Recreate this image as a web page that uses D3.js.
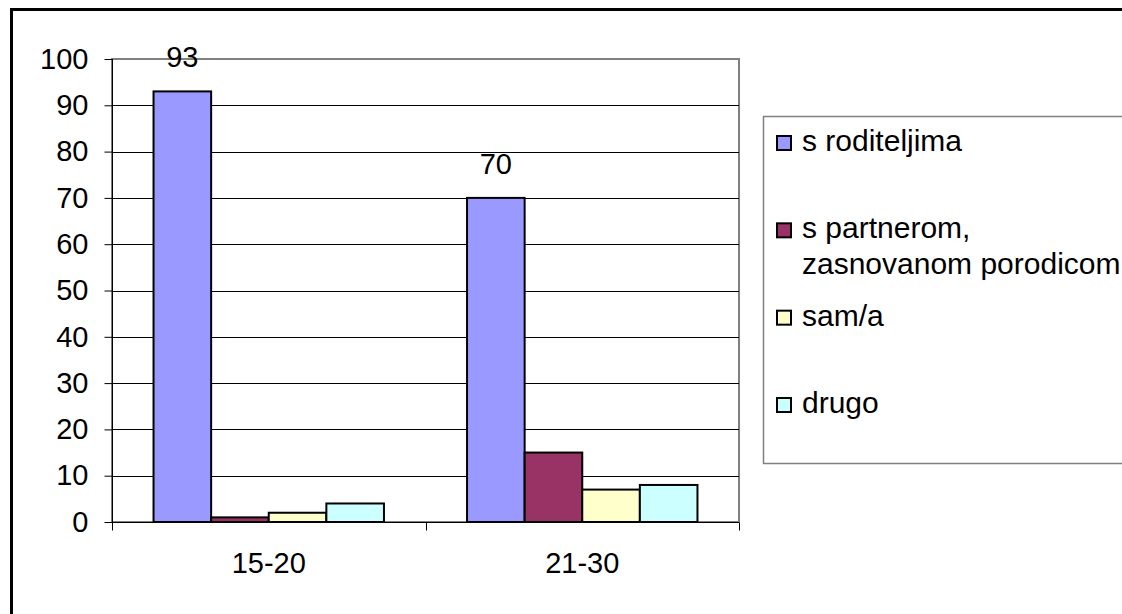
<!DOCTYPE html>
<html>
<head>
<meta charset="utf-8">
<script src="https://cdn.jsdelivr.net/npm/d3@7/dist/d3.min.js"></script>
<style>
  html, body { margin: 0; padding: 0; background: #fff; }
  svg { display: block; }
  text { font-family: "Liberation Sans", Arial, sans-serif; fill: #000; }
</style>
</head>
<body>
<svg id="chart" width="1122" height="614"></svg>
<script>
const categories = ["15-20", "21-30"];
const seriesNames = ["s roditeljima", "s partnerom,\nzasnovanom porodicom", "sam/a", "drugo"];
const seriesColors = ["#9999FF", "#993366", "#FFFFCC", "#CCFFFF"];
const values = [
  [93, 1, 2, 4],
  [70, 15, 7, 8]
];
const labeledSeries = [0];
const yTicks = [0, 10, 20, 30, 40, 50, 60, 70, 80, 90, 100];

const svg = d3.select("#chart");
const W = 1122, H = 614;
const plot = { left: 112, right: 739, top: 59, bottom: 522 };
const FS = 29;
const LFS = 30;

svg.append("rect").attr("x", 0).attr("y", 0).attr("width", W).attr("height", H).attr("fill", "#fff");
// outer chart frame (extends past visible area)
svg.append("rect").attr("x", 11.5).attr("y", 9.5).attr("width", 1200).attr("height", 700)
  .attr("fill", "none").attr("stroke", "#000").attr("stroke-width", 3);

const x0 = d3.scaleBand().domain(categories).range([plot.left, plot.right])
  .paddingInner(0.265).paddingOuter(0.1325);
const x1 = d3.scaleBand().domain(d3.range(seriesNames.length)).range([0, x0.bandwidth()]);
const y = d3.scaleLinear().domain([0, 100]).range([plot.bottom, plot.top]);

// plot area border (gray)
svg.append("rect").attr("x", plot.left).attr("y", y(100))
  .attr("width", plot.right - plot.left).attr("height", y(0) - y(100))
  .attr("fill", "none").attr("stroke", "#808080").attr("stroke-width", 2);

// gridlines
svg.append("g").selectAll("line").data(yTicks.filter(t => t > 0 && t < 100)).join("line")
  .attr("x1", plot.left).attr("x2", plot.right)
  .attr("y1", d => Math.round(y(d)) + 0.5).attr("y2", d => Math.round(y(d)) + 0.5)
  .attr("stroke", "#000").attr("stroke-width", 1);

// bars
const groups = svg.append("g").selectAll("g").data(categories).join("g")
  .attr("transform", c => `translate(${x0(c)},0)`);
groups.selectAll("rect").data((c, i) => values[i].map((v, s) => ({ v, s }))).join("rect")
  .attr("x", d => x1(d.s))
  .attr("y", d => y(d.v))
  .attr("width", x1.bandwidth())
  .attr("height", d => y(0) - y(d.v))
  .attr("fill", d => seriesColors[d.s])
  .attr("stroke", "#000").attr("stroke-width", 2);

// data labels
groups.selectAll("text.lbl").data((c, i) => labeledSeries.map(s => ({ v: values[i][s], s }))).join("text")
  .attr("class", "lbl")
  .attr("x", d => x1(d.s) + x1.bandwidth() / 2)
  .attr("y", d => y(d.v) - 24)
  .attr("text-anchor", "middle").attr("font-size", FS)
  .text(d => d.v);

// y axis
const yAxis = d3.axisLeft(y).tickValues(yTicks).tickSize(8).tickPadding(16);
const gy = svg.append("g").attr("transform", `translate(${plot.left + 0.5},0)`).call(yAxis);
gy.select(".domain").attr("stroke", "#000").attr("d", `M0,${y(100)}V${y(0)}`);
gy.selectAll(".tick line").attr("stroke", "#000");
gy.selectAll(".tick text").attr("font-size", FS).attr("font-family", "Liberation Sans, Arial, sans-serif").attr("fill", "#000");

// x axis
const xAxis = d3.axisBottom(x0).tickSize(0).tickPadding(30);
const gx = svg.append("g").attr("transform", `translate(0,${plot.bottom + 0.5})`).call(xAxis);
gx.select(".domain").attr("stroke", "#000").attr("d", `M${plot.left},0H${plot.right}`);
gx.selectAll(".tick text").attr("font-size", FS).attr("font-family", "Liberation Sans, Arial, sans-serif").attr("fill", "#000")
  .attr("dy", "0.71em");
// category boundary ticks
const bounds = d3.range(categories.length + 1).map(i => plot.left + i * (plot.right - plot.left) / categories.length);
gx.append("g").selectAll("line").data(bounds).join("line")
  .attr("x1", d => Math.round(d) + 0.5).attr("x2", d => Math.round(d) + 0.5)
  .attr("y1", 0).attr("y2", 8).attr("stroke", "#000");

// legend
const legend = { x: 763, y: 116, w: 420, h: 347 };
svg.append("rect").attr("x", legend.x + 0.5).attr("y", legend.y + 0.5)
  .attr("width", legend.w).attr("height", legend.h)
  .attr("fill", "#fff").attr("stroke", "#808080").attr("stroke-width", 1.5);
const baselines = d3.scaleLinear().domain([0, seriesNames.length - 1]).range([151, 413]);
const items = svg.append("g").selectAll("g").data(seriesNames).join("g")
  .attr("transform", (d, i) => `translate(0,${baselines(i)})`);
items.append("rect")
  .attr("x", 777).attr("y", -15).attr("width", 14).attr("height", 14)
  .attr("fill", (d, i) => seriesColors[i]).attr("stroke", "#000").attr("stroke-width", 2);
items.append("text").attr("x", 802).attr("y", 0).attr("font-size", LFS)
  .selectAll("tspan").data(d => d.split("\n")).join("tspan")
  .attr("x", 802).attr("dy", (d, i) => i === 0 ? 0 : 36)
  .text(d => d);
</script>
</body>
</html>
